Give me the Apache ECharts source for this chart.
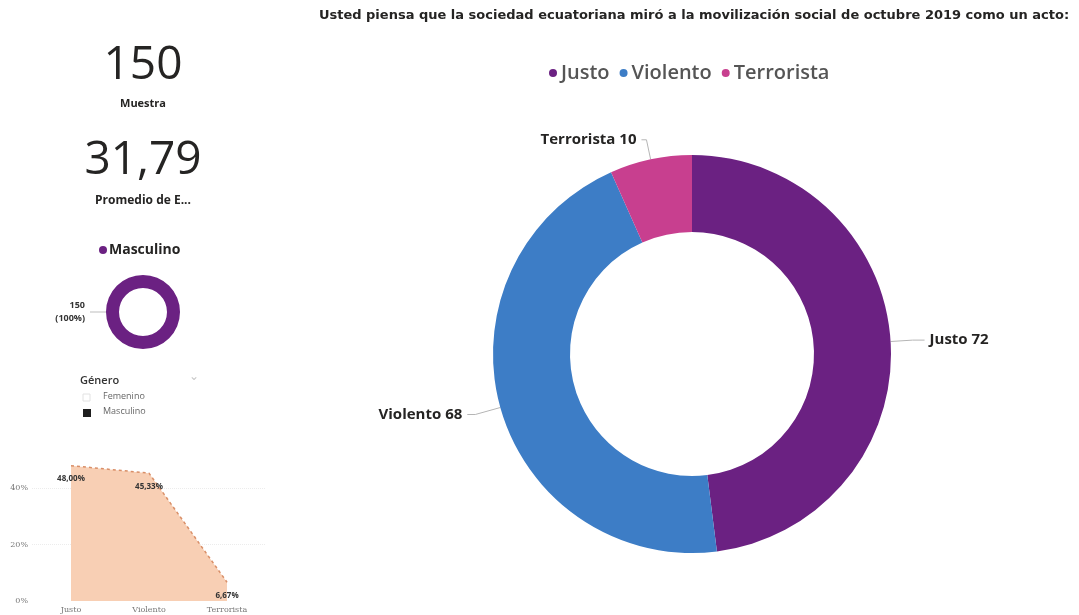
<!DOCTYPE html>
<html>
<head>
<meta charset="utf-8">
<script src="https://cdn.jsdelivr.net/npm/echarts@6/dist/echarts.min.js"></script>
<style>
  html, body { margin: 0; padding: 0; background: #ffffff; }
  #chart { width: 1079px; height: 615px; }
</style>
</head>
<body>
<div id="chart"></div>
<script>
// Survey answers: how Ecuadorian society saw the October 2019 social mobilisation
const answerNames = ['Justo', 'Violento', 'Terrorista'];
const answerCounts = [72, 68, 10];
const answerShares = [48.00, 45.33, 6.67];   // percent of sample
const answerColors = ['#6b2182', '#3d7dc6', '#c83f8f'];

// Respondents by gender
const genderNames = ['Masculino'];
const genderCounts = [150];

// Headline figures
const sampleSize = '150';
const averageAge = '31,79';
const shareTicks = [0, 20, 40];

// leader line lengths per answer label [radial, horizontal]
const leaderLengths = [[22, 12], [26, 8], [20, 5]];

const chart = echarts.init(document.getElementById('chart'));
const FONT = '"Open Sans", "Noto Sans", sans-serif';
const pct = v => v.toFixed(2).replace('.', ',') + '%';

chart.setOption({
  animation: false,
  textStyle: { fontFamily: FONT },
  legend: [
    {
      data: answerNames,
      left: 544, top: 58,
      icon: 'circle', itemWidth: 8, itemHeight: 8, itemGap: 10,
      textStyle: { fontSize: 20, fontWeight: 600, color: '#555555', fontFamily: FONT, padding: [0, 0, 0, -1] }
    },
    {
      data: genderNames,
      left: 94, top: 238,
      icon: 'circle', itemWidth: 8, itemHeight: 8, itemGap: 5,
      textStyle: { fontSize: 14, fontWeight: 'bold', color: '#252423', fontFamily: FONT, padding: [0, 0, 0, -3] }
    }
  ],
  grid: { left: 32, right: 813, top: 460, bottom: 14 },
  xAxis: {
    type: 'category',
    data: answerNames,
    boundaryGap: true,
    axisLine: { show: false }, axisTick: { show: false },
    axisLabel: { fontSize: 8, color: '#777', margin: 5, fontFamily: 'DejaVu Serif' }
  },
  yAxis: {
    type: 'value', min: 0, max: 50, interval: 20,
    axisLabel: {
      fontSize: 8, color: '#777', margin: 4, fontFamily: 'DejaVu Serif',
      showMaxLabel: false,
      formatter: v => (shareTicks.includes(v) ? v + '%' : '')
    },
    splitLine: { showMinLine: false, showMaxLine: false, lineStyle: { color: '#ececec', type: 'dotted' } }
  },
  series: [
    {
      type: 'pie',
      center: [692, 354],
      radius: [122, 199],
      startAngle: 90,
      clockwise: true,
      data: answerNames.map((n, i) => ({
        name: n, value: answerCounts[i],
        itemStyle: { color: answerColors[i] },
        labelLine: { length: leaderLengths[i][0], length2: leaderLengths[i][1] }
      })),
      label: {
        formatter: '{b} {c}',
        fontSize: 15, fontWeight: 'bold', color: '#252423', fontFamily: FONT
      },
      labelLine: { lineStyle: { color: '#b5b5b5', width: 1 } },
      emphasis: { disabled: true }
    },
    {
      type: 'pie',
      center: [143, 312],
      radius: [24, 37],
      startAngle: 0,
      clockwise: true,
      data: genderNames.map((n, i) => ({ name: n, value: genderCounts[i], itemStyle: { color: '#6b2182' } })),
      label: {
        formatter: p => p.value + '\n(' + Math.round(p.percent) + '%)',
        fontSize: 9, fontWeight: 'bold', color: '#333', align: 'right', lineHeight: 13, fontFamily: FONT
      },
      labelLine: { length: 2, length2: 14, lineStyle: { color: '#bdbdbd', width: 1 } },
      emphasis: { disabled: true }
    },
    {
      type: 'line',
      data: answerShares,
      symbol: 'circle',
      symbolSize: 1,
      showSymbol: true,
      itemStyle: { color: 'rgba(0,0,0,0)' },
      lineStyle: { color: '#d98f68', width: 1.5, type: [3, 3] },
      areaStyle: { color: '#f8cfb4', opacity: 1 },
      label: {
        show: true, position: 'bottom', distance: 9,
        formatter: p => pct(p.value),
        fontSize: 8, fontWeight: 'bold', color: '#333', fontFamily: FONT
      },
      emphasis: { disabled: true }
    }
  ],
  graphic: [
    {
      type: 'text', x: 694, y: 9,
      style: {
        text: 'Usted piensa que la sociedad ecuatoriana miró a la movilización social de octubre 2019 como un acto:',
        font: 'bold 13px "DejaVu Sans"', fill: '#252423', align: 'center'
      }
    },
    { type: 'text', x: 143, y: 43, style: { text: sampleSize, font: '46px "Open Sans"', fill: '#252423', align: 'center' } },
    { type: 'text', x: 143, y: 98, style: { text: 'Muestra', font: 'bold 11px "Open Sans"', fill: '#252423', align: 'center' } },
    { type: 'text', x: 143, y: 138, style: { text: averageAge, font: '46px "Open Sans"', fill: '#252423', align: 'center' } },
    { type: 'text', x: 143, y: 195, style: { text: 'Promedio de E...', font: 'bold 12px "Open Sans"', fill: '#252423', align: 'center' } },
    // gender slicer
    { type: 'text', x: 80, y: 375, style: { text: 'Género', font: '600 11px "Open Sans"', fill: '#333' } },
    { type: 'text', x: 189, y: 371, style: { text: '⌄', font: '12px "DejaVu Sans"', fill: '#c8c8c8' } },
    { type: 'rect', shape: { x: 83, y: 394, width: 7, height: 7 }, style: { fill: '#fff', stroke: '#e2e2e2', lineWidth: 1 } },
    { type: 'text', x: 103, y: 392, style: { text: 'Femenino', font: '9px "Open Sans"', fill: '#666' } },
    { type: 'rect', shape: { x: 83, y: 409, width: 8, height: 8 }, style: { fill: '#1e1e1e' } },
    { type: 'text', x: 103, y: 407, style: { text: 'Masculino', font: '9px "Open Sans"', fill: '#666' } }
  ]
});
</script>
</body>
</html>
